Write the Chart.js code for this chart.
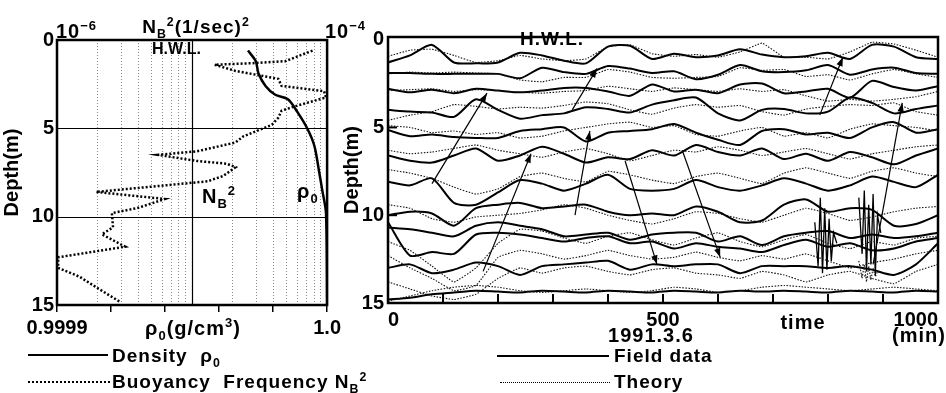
<!DOCTYPE html>
<html>
<head>
<meta charset="utf-8">
<script src="https://cdn.jsdelivr.net/npm/chart.js@4.4.1/dist/chart.umd.min.js"></script>
<style>
  body { margin: 0; background: #fff; }
  #wrap { position: relative; width: 946px; height: 393px; overflow: hidden; background: #fff;
          font-family: "Liberation Sans", Arial, sans-serif; font-weight: bold; color: #000; }
  canvas { position: absolute; top: 0; }
  .t { position: absolute; white-space: nowrap; line-height: 1; letter-spacing: 1px; font-size: 20px; }
  .c { transform: translateX(-50%); }
  .ln { position: absolute; height: 0; }
  sup, sub { font-size: 65%; line-height: 0; }
</style>
</head>
<body>
<div id="wrap">
  <canvas id="profileChart" width="345" height="393" style="left:0"></canvas>
  <canvas id="seriesChart" width="606" height="393" style="left:340px"></canvas>

  <!-- left panel texts -->
  <div class="t" style="left:56px;top:21px">10<sup>−6</sup></div>
  <div class="t" style="left:325px;top:21px">10<sup>−4</sup></div>
  <div class="t c" style="left:196px;top:17px;font-size:19px">N<sub>B</sub><sup>2</sup>(1/sec)<sup>2</sup></div>
  <div class="t" style="left:152px;top:41px;font-size:16px;letter-spacing:0">H.W.L.</div>
  <div class="t" style="left:202px;top:186px">N<sub>B</sub><sup>2</sup></div>
  <div class="t" style="left:297px;top:181px">ρ<sub>0</sub></div>
  <div class="t c" style="left:193px;top:318px">ρ<sub>0</sub>(g/cm<sup>3</sup>)</div>
  <div class="ln" style="left:28px;top:354px;width:80px;border-top:2px solid #000"></div>
  <div class="t" style="left:112px;top:346px;font-size:19px">Density&nbsp;&nbsp;ρ<sub>0</sub></div>
  <div class="ln" style="left:28px;top:381px;width:82px;border-top:2px dotted #000"></div>
  <div class="t" style="left:112px;top:372px;font-size:19px">Buoyancy&nbsp;&nbsp;Frequency N<sub>B</sub><sup>2</sup></div>

  <!-- right panel texts -->
  <div class="t" style="left:520px;top:29px;font-size:19px">H.W.L.</div>
  <div class="t c" style="left:803px;top:312px">time</div>
  <div class="t c" style="left:651px;top:325px">1991.3.6</div>
  <div class="t c" style="left:919px;top:325px">(min)</div>
  <div class="ln" style="left:497px;top:355px;width:112px;border-top:2px solid #000"></div>
  <div class="t" style="left:614px;top:346px;font-size:19px">Field data</div>
  <div class="ln" style="left:500px;top:382px;width:110px;border-top:1.5px dotted #000"></div>
  <div class="t" style="left:614px;top:372px;font-size:19px">Theory</div>
</div>

<script>
// ---- left panel: density and buoyancy frequency profiles ----
const densityDepth = [0.6, 1.2, 1.9, 2.6, 3.1, 3.35, 4.1, 5.05, 6.0, 7.5, 8.5, 9.8, 15.0];
const densityRho = [0.9999707, 0.9999736, 0.9999746, 0.9999772, 0.9999808, 0.9999855, 0.9999891,
                    0.9999928, 0.9999953, 0.9999971, 0.9999982, 0.9999996, 1.0];

const n2Depth = [0.6, 1.2, 1.3, 1.4, 1.75, 2.2, 2.6, 2.9, 3.25, 3.75, 4.0, 4.4, 4.8, 5.45, 5.8, 6.3, 6.5,
                 6.85, 7.0, 7.2, 7.7, 8.0, 8.6, 9.0, 9.5, 9.8, 10.6, 11.0, 11.7, 12.3, 12.9, 13.4, 14.1, 14.8];
const n2Value = [7.8e-5, 4.9e-5, 3.0e-5, 1.47e-5, 2.1e-5, 4.35e-5, 4.6e-5, 9.5e-5, 9.8e-5, 5.8e-5, 4.6e-5,
                 4.35e-5, 3.9e-5, 2.4e-5, 2.1e-5, 1.09e-5, 5.6e-6, 1.09e-5, 1.8e-5, 2.1e-5, 1.7e-5, 1.3e-5,
                 1.95e-6, 6.3e-6, 4.0e-6, 2.55e-6, 2.6e-6, 2.15e-6, 3.2e-6, 1.02e-6, 1.02e-6, 1.47e-6, 2.05e-6, 2.9e-6];

const depthTicks = [0, 5, 10, 15];
const depthRefLines = [5, 10];
const n2RefLines = [1e-5];
const n2GridValues = [1e-6, 2e-6, 3e-6, 4e-6, 5e-6, 6e-6, 7e-6, 8e-6, 9e-6,
                      1e-5, 2e-5, 3e-5, 4e-5, 5e-5, 6e-5, 7e-5, 8e-5, 9e-5, 1e-4];
const rhoTicks = [0.9999, 0.99992, 0.99994, 0.99996, 0.99998, 1.0];
const rhoTickLabels = ['0.9999', '', '', '', '', '1.0'];

// ---- right panel: isopycnal depths, field data vs theory ----
const timeGrid = [0, 40, 80, 120, 160, 200, 240, 280, 320, 360, 400, 440, 480, 520, 560, 600, 640, 680,
                  720, 760, 800, 840, 880, 920, 960, 1000];

const field1 = [1.3, 0.9, 0.3, 1.3, 1.35, 1.3, 0.75, 0.9, 1.2, 1.35, 0.4, 0.35, 1.1, 0.8, 1.0, 0.9, 0.55, 0.85, 1.0, 0.95, 0.75, 1.1, 0.3, 0.4, 1.0, 1.1];
const field2 = [1.9, 1.9, 1.95, 1.95, 1.95, 1.95, 2.2, 1.6, 1.85, 1.95, 1.5, 1.65, 1.9, 1.8, 2.25, 2.0, 1.45, 1.8, 1.85, 1.75, 1.45, 2.0, 1.7, 1.6, 1.9, 1.95];
const field3 = [2.8, 3.0, 2.85, 3.05, 2.8, 2.9, 3.0, 2.9, 2.75, 2.75, 2.95, 3.2, 2.55, 2.95, 2.85, 3.05, 2.55, 2.5, 3.05, 2.95, 2.8, 3.3, 2.35, 2.7, 2.9, 2.65];
const field4 = [4.0, 4.1, 4.15, 4.4, 3.4, 4.0, 4.5, 4.3, 4.2, 3.85, 3.95, 4.15, 3.7, 3.45, 3.3, 4.2, 4.6, 4.0, 3.95, 4.2, 4.1, 3.3, 3.6, 4.2, 3.95, 3.75];
const field5 = [5.15, 5.5, 5.4, 5.55, 5.6, 5.6, 5.2, 5.1, 5.0, 5.8, 5.3, 5.2, 5.1, 4.8, 5.3, 5.7, 6.0, 5.2, 5.1, 5.4, 5.3, 5.6, 5.0, 4.7, 5.3, 5.1];
const field6 = [6.6, 6.9, 7.0, 6.6, 6.2, 6.9, 6.6, 6.1, 6.5, 7.0, 6.7, 6.8, 6.3, 6.6, 6.0, 6.4, 6.6, 6.2, 6.8, 6.5, 6.9, 6.4, 6.7, 7.1, 6.6, 6.2];
const field7 = [8.1, 8.3, 7.9, 9.3, 9.4, 8.7, 8.0, 8.2, 8.6, 8.2, 7.7, 8.5, 8.6, 8.5, 8.0, 8.4, 8.6, 8.3, 7.9, 8.2, 8.6, 8.3, 7.8, 8.1, 8.4, 7.7];
const field8 = [10.0, 9.8, 9.9, 10.6, 9.6, 9.4, 9.3, 9.6, 9.5, 9.4, 9.8, 10.0, 9.9, 10.0, 9.5, 9.8, 10.4, 10.3, 9.4, 9.1, 9.8, 9.6, 9.7, 10.6, 10.5, 10.0];
const field9 = [10.7, 10.8, 11.0, 11.2, 10.6, 10.4, 10.6, 10.8, 11.2, 11.1, 11.0, 11.4, 11.1, 11.0, 11.0, 11.5, 11.2, 11.7, 11.2, 11.0, 10.9, 11.3, 11.1, 11.3, 11.2, 11.0];
const field10 = [10.4, 12.3, 12.1, 12.2, 11.1, 11.0, 11.1, 11.3, 11.5, 11.3, 11.2, 11.6, 11.5, 11.9, 11.6, 11.8, 11.9, 12.1, 11.7, 11.4, 11.8, 11.6, 12.0, 11.9, 11.5, 11.3];
const field11 = [13.0, 12.8, 13.3, 13.1, 12.7, 12.9, 13.4, 12.9, 12.8, 12.7, 12.6, 13.1, 12.8, 12.9, 12.8, 12.8, 13.3, 12.9, 12.9, 12.9, 13.0, 12.9, 13.1, 13.4, 12.8, 11.6];
const field12 = [14.8, 14.7, 14.5, 14.4, 14.3, 14.35, 14.4, 14.3, 14.35, 14.4, 14.3, 14.35, 14.4, 14.3, 14.35, 14.4, 14.3, 14.35, 14.3, 14.35, 14.4, 14.3, 14.35, 14.4, 14.3, 14.35];

const theory1 = [0.95, 0.6, 0.55, 0.9, 1.3, 1.2, 0.9, 1.1, 1.2, 1.1, 0.4, 0.3, 0.8, 0.95, 0.85, 1.0, 0.7, 0.2, 1.0, 1.0, 1.1, 0.7, 0.15, 0.25, 0.6, 1.0];
const theory2 = [1.95, 1.85, 1.9, 1.85, 1.9, 1.95, 2.3, 2.4, 2.15, 2.15, 1.7, 1.85, 2.15, 2.2, 2.15, 2.1, 1.6, 1.75, 1.7, 2.1, 2.0, 2.3, 1.95, 1.7, 1.95, 2.15];
const theory3 = [2.9, 2.85, 2.8, 2.95, 2.85, 2.9, 3.0, 3.05, 2.95, 2.9, 2.65, 2.8, 2.95, 2.75, 2.85, 2.95, 2.8, 2.95, 2.85, 3.2, 3.5, 3.4, 3.5, 3.4, 3.25, 2.95];
const theory4 = [4.6, 4.3, 4.1, 3.7, 3.8, 3.95, 3.85, 3.9, 3.75, 3.55, 3.65, 4.0, 4.25, 3.9, 3.7, 3.85, 3.75, 4.1, 4.3, 3.95, 3.8, 3.7, 3.75, 3.6, 4.1, 4.3];
const theory5 = [4.9, 5.0, 5.3, 5.2, 5.4, 5.3, 5.6, 5.5, 5.2, 5.0, 4.8, 4.7, 5.0, 4.9, 5.4, 5.5, 5.2, 5.0, 5.5, 5.3, 5.6, 5.1, 4.8, 4.9, 5.0, 5.2];
const theory6 = [6.3, 6.5, 6.4, 6.2, 6.0, 6.3, 6.5, 6.7, 6.4, 6.2, 6.5, 6.9, 6.6, 6.3, 6.4, 6.1, 6.3, 6.6, 6.4, 6.2, 6.5, 6.8, 6.5, 6.3, 6.1, 6.0];
const theory7 = [7.4, 7.6, 7.9, 8.4, 8.8, 8.5, 7.8, 7.6, 7.9, 8.1, 7.5, 7.7, 8.0, 8.2, 7.8, 7.6, 7.9, 8.2, 7.6, 7.3, 7.6, 7.9, 7.5, 7.3, 7.6, 7.8];
const theory8 = [9.4, 9.6, 10.2, 10.4, 10.1, 10.0, 9.9, 9.7, 9.4, 9.6, 10.0, 10.3, 10.5, 10.2, 9.8, 9.9, 10.2, 10.4, 10.0, 9.6, 9.9, 10.3, 10.1, 9.8, 9.6, 9.5];
const theory9 = [11.5, 12.0, 12.9, 13.8, 13.0, 11.6, 10.8, 10.9, 11.3, 11.6, 11.2, 11.0, 11.4, 11.7, 11.3, 11.0, 11.5, 11.8, 11.4, 11.1, 11.6, 11.9, 11.5, 11.7, 11.3, 11.2];
const theory10 = [12.3, 13.0, 13.6, 14.3, 14.0, 12.4, 12.0, 12.2, 12.5, 12.3, 12.0, 12.3, 12.5, 12.4, 12.1, 12.4, 12.6, 12.3, 12.5, 12.2, 12.6, 13.0, 12.7, 12.5, 12.2, 12.0];
const theory11 = [13.8, 14.2, 14.6, 14.8, 14.5, 13.6, 13.0, 13.3, 13.0, 12.9, 13.2, 13.4, 13.1, 13.0, 13.3, 13.4, 13.6, 13.2, 13.4, 13.8, 13.4, 13.2, 13.6, 13.9, 13.2, 12.8];
const theory12 = [14.9, 14.6, 14.3, 14.1, 14.0, 14.1, 14.3, 14.4, 14.3, 14.2, 14.3, 14.4, 14.3, 14.1, 14.2, 14.4, 14.3, 14.1, 14.0, 14.1, 14.2, 14.3, 14.2, 14.1, 14.2, 14.3];

// fast oscillations seen in the field record around 800 and 880 min
const burstTime1 = [776, 782, 786, 790, 794, 798, 802, 806, 810, 816];
const burstDepth1 = [10.4, 12.9, 9.0, 13.3, 9.6, 13.1, 10.2, 12.6, 11.0, 11.6];
const burstTime2 = [856, 862, 866, 870, 874, 878, 882, 886, 890, 896];
const burstDepth2 = [9.0, 12.2, 8.6, 13.2, 9.4, 12.8, 8.8, 13.4, 10.0, 11.0];
const burstDepth2Theory = [12.6, 13.6, 12.8, 13.8, 12.9, 13.7, 13.0, 13.5, 13.2, 13.3];

// arrows (start -> head), in minutes and metres
const arrowStartTime = [80, 173, 340, 431, 535, 335, 785, 882];
const arrowStartDepth = [8.2, 13.2, 10.0, 6.9, 6.3, 4.0, 4.3, 12.8];
const arrowEndTime = [180, 260, 367, 489, 604, 380, 827, 935];
const arrowEndDepth = [3.05, 6.5, 5.2, 12.8, 12.4, 1.65, 1.0, 3.6];

const timeTicks = [0, 100, 200, 300, 400, 500, 600, 700, 800, 900, 1000];
const timeLabels = [0, 500, 1000];
const depthInnerTicks = [5, 10];

const FONT = '"Liberation Sans", Arial, sans-serif';
const tickFont = { family: FONT, size: 20, weight: 'bold' };
const titleFont = { family: FONT, size: 20, weight: 'bold' };

const pts = (xs, ys) => xs.map((x, i) => ({ x: x, y: ys[i] }));

// box round the plot area
const frame = {
  id: 'frame',
  afterDraw(chart, args, opts) {
    const { ctx, chartArea: a } = chart;
    ctx.save();
    ctx.strokeStyle = '#000';
    ctx.lineWidth = opts.width || 2;
    ctx.strokeRect(a.left, a.top, a.right - a.left, a.bottom - a.top);
    ctx.restore();
  }
};

// solid reference lines of the profile panel
const profileRefs = {
  id: 'profileRefs',
  beforeDatasetsDraw(chart) {
    const { ctx, chartArea: a, scales } = chart;
    ctx.save();
    ctx.strokeStyle = '#000';
    ctx.lineWidth = 1.2;
    depthRefLines.forEach(d => {
      const y = Math.round(scales.y.getPixelForValue(d)) + 0.5;
      ctx.beginPath(); ctx.moveTo(a.left, y); ctx.lineTo(a.right, y); ctx.stroke();
    });
    n2RefLines.forEach(v => {
      const x = Math.round(scales.xN2.getPixelForValue(v)) + 0.5;
      ctx.beginPath(); ctx.moveTo(x, a.top); ctx.lineTo(x, a.bottom); ctx.stroke();
    });
    ctx.restore();
  }
};

// inward tick marks + arrow heads of the time series panel
const seriesExtras = {
  id: 'seriesExtras',
  afterDraw(chart) {
    const { ctx, chartArea: a, scales } = chart;
    ctx.save();
    ctx.strokeStyle = '#000';
    ctx.fillStyle = '#000';
    ctx.lineWidth = 2;
    timeTicks.forEach(t => {
      const x = scales.x.getPixelForValue(t);
      ctx.beginPath(); ctx.moveTo(x, a.bottom); ctx.lineTo(x, a.bottom - 9); ctx.stroke();
    });
    depthInnerTicks.forEach(d => {
      const y = scales.y.getPixelForValue(d);
      ctx.beginPath(); ctx.moveTo(a.left, y); ctx.lineTo(a.left + 9, y); ctx.stroke();
    });
    chart.data.datasets.forEach((ds, i) => {
      if (!ds.isArrow) return;
      const m = chart.getDatasetMeta(i).data;
      const p0 = m[0], p1 = m[1];
      const ang = Math.atan2(p1.y - p0.y, p1.x - p0.x);
      const len = 9, half = 3.2;
      ctx.beginPath();
      ctx.moveTo(p1.x, p1.y);
      ctx.lineTo(p1.x - len * Math.cos(ang) + half * Math.sin(ang), p1.y - len * Math.sin(ang) - half * Math.cos(ang));
      ctx.lineTo(p1.x - len * Math.cos(ang) - half * Math.sin(ang), p1.y - len * Math.sin(ang) + half * Math.cos(ang));
      ctx.closePath();
      ctx.fill();
    });
    ctx.restore();
  }
};

new Chart(document.getElementById('profileChart'), {
  type: 'line',
  data: {
    datasets: [{
      label: 'Density ρ0',
      data: pts(densityRho, densityDepth),
      xAxisID: 'xRho', yAxisID: 'y',
      borderColor: '#000', borderWidth: 2.5, pointRadius: 0, tension: 0.3
    }, {
      label: 'Buoyancy Frequency NB2',
      data: pts(n2Value, n2Depth),
      xAxisID: 'xN2', yAxisID: 'y',
      borderColor: '#000', borderWidth: 2.5, borderDash: [2, 2], pointRadius: 0, tension: 0
    }]
  },
  options: {
    responsive: false,
    animation: false,
    devicePixelRatio: 1,
    layout: { padding: { left: 0, right: 12, top: 0, bottom: 0 } },
    plugins: { legend: { display: false }, tooltip: { enabled: false }, frame: { width: 2.5 } },
    scales: {
      y: {
        type: 'linear', position: 'left', reverse: true, min: 0, max: 15,
        afterBuildTicks: s => { s.ticks = depthTicks.map(v => ({ value: v })); },
        afterFit: s => { s.width = 57; },
        grid: { display: false, drawTicks: false }, border: { display: false },
        ticks: { color: '#000', font: tickFont, padding: 3 },
        title: { display: true, text: 'Depth(m)', color: '#000', font: titleFont, padding: 0 }
      },
      xN2: {
        type: 'logarithmic', position: 'top', min: 1e-6, max: 1e-4,
        afterBuildTicks: s => { s.ticks = n2GridValues.map(v => ({ value: v })); },
        afterFit: s => { s.height = 40; },
        ticks: { display: false },
        grid: { color: '#8a8a8a', lineWidth: 1, drawTicks: false },
        border: { display: false, dash: [1, 2] }
      },
      xRho: {
        type: 'linear', position: 'bottom', min: 0.9999, max: 1.0,
        afterBuildTicks: s => { s.ticks = rhoTicks.map(v => ({ value: v })); },
        afterFit: s => { s.height = 88; },
        grid: { drawOnChartArea: false, drawTicks: true, tickLength: 7, color: '#000', lineWidth: 1.5 },
        border: { display: false },
        ticks: { color: '#000', font: tickFont, padding: 4, maxRotation: 0, autoSkip: false,
                 callback: (v, i) => rhoTickLabels[i] }
      }
    }
  },
  plugins: [profileRefs, frame]
});

const fieldSeries = [field1, field2, field3, field4, field5, field6, field7, field8, field9, field10, field11, field12];
const theorySeries = [theory1, theory2, theory3, theory4, theory5, theory6, theory7, theory8, theory9, theory10, theory11, theory12];

const theoryStyle = { borderColor: '#111', borderWidth: 1.1, borderDash: [1.5, 1.5], pointRadius: 0, tension: 0.1 };
const fieldStyle = { borderColor: '#000', borderWidth: 2, pointRadius: 0, tension: 0.25 };

const seriesDatasets = [];
theorySeries.forEach((s, k) => seriesDatasets.push(Object.assign({ label: 'Theory ' + (k + 1), data: pts(timeGrid, s) }, theoryStyle)));
seriesDatasets.push(Object.assign({ label: 'Theory burst', data: pts(burstTime2, burstDepth2Theory) }, theoryStyle, { tension: 0 }));
fieldSeries.forEach((s, k) => seriesDatasets.push(Object.assign({ label: 'Field ' + (k + 1), data: pts(timeGrid, s) }, fieldStyle)));
seriesDatasets.push({ label: 'Field burst 1', data: pts(burstTime1, burstDepth1), borderColor: '#000', borderWidth: 1.3, pointRadius: 0, tension: 0 });
seriesDatasets.push({ label: 'Field burst 2', data: pts(burstTime2, burstDepth2), borderColor: '#000', borderWidth: 1.3, pointRadius: 0, tension: 0 });
arrowStartTime.forEach((t, i) => {
  seriesDatasets.push({
    label: 'Arrow ' + (i + 1), isArrow: true,
    data: [{ x: t, y: arrowStartDepth[i] }, { x: arrowEndTime[i], y: arrowEndDepth[i] }],
    borderColor: '#000', borderWidth: 1.2, pointRadius: 0
  });
});

new Chart(document.getElementById('seriesChart'), {
  type: 'line',
  data: { datasets: seriesDatasets },
  options: {
    responsive: false,
    animation: false,
    devicePixelRatio: 1,
    layout: { padding: { left: 0, right: 8, top: 37, bottom: 0 } },
    plugins: { legend: { display: false }, tooltip: { enabled: false }, frame: { width: 2.5 } },
    scales: {
      x: {
        type: 'linear', min: 0, max: 1000,
        afterBuildTicks: s => { s.ticks = timeTicks.map(v => ({ value: v })); },
        afterFit: s => { s.height = 90; },
        grid: { display: true, drawOnChartArea: false, drawTicks: false },
        border: { display: false },
        ticks: { color: '#000', font: tickFont, padding: 5, maxRotation: 0, autoSkip: false, align: 'inner',
                 callback: v => timeLabels.includes(v) ? String(v) : '' }
      },
      y: {
        type: 'linear', reverse: true, min: -0.15, max: 15,
        afterBuildTicks: s => { s.ticks = depthTicks.map(v => ({ value: v })); },
        afterFit: s => { s.width = 48; },
        grid: { display: false, drawTicks: false }, border: { display: false },
        ticks: { color: '#000', font: tickFont, padding: 4 },
        title: { display: true, text: 'Depth(m)', color: '#000', font: titleFont, padding: 0 }
      }
    }
  },
  plugins: [seriesExtras, frame]
});
</script>
</body>
</html>
